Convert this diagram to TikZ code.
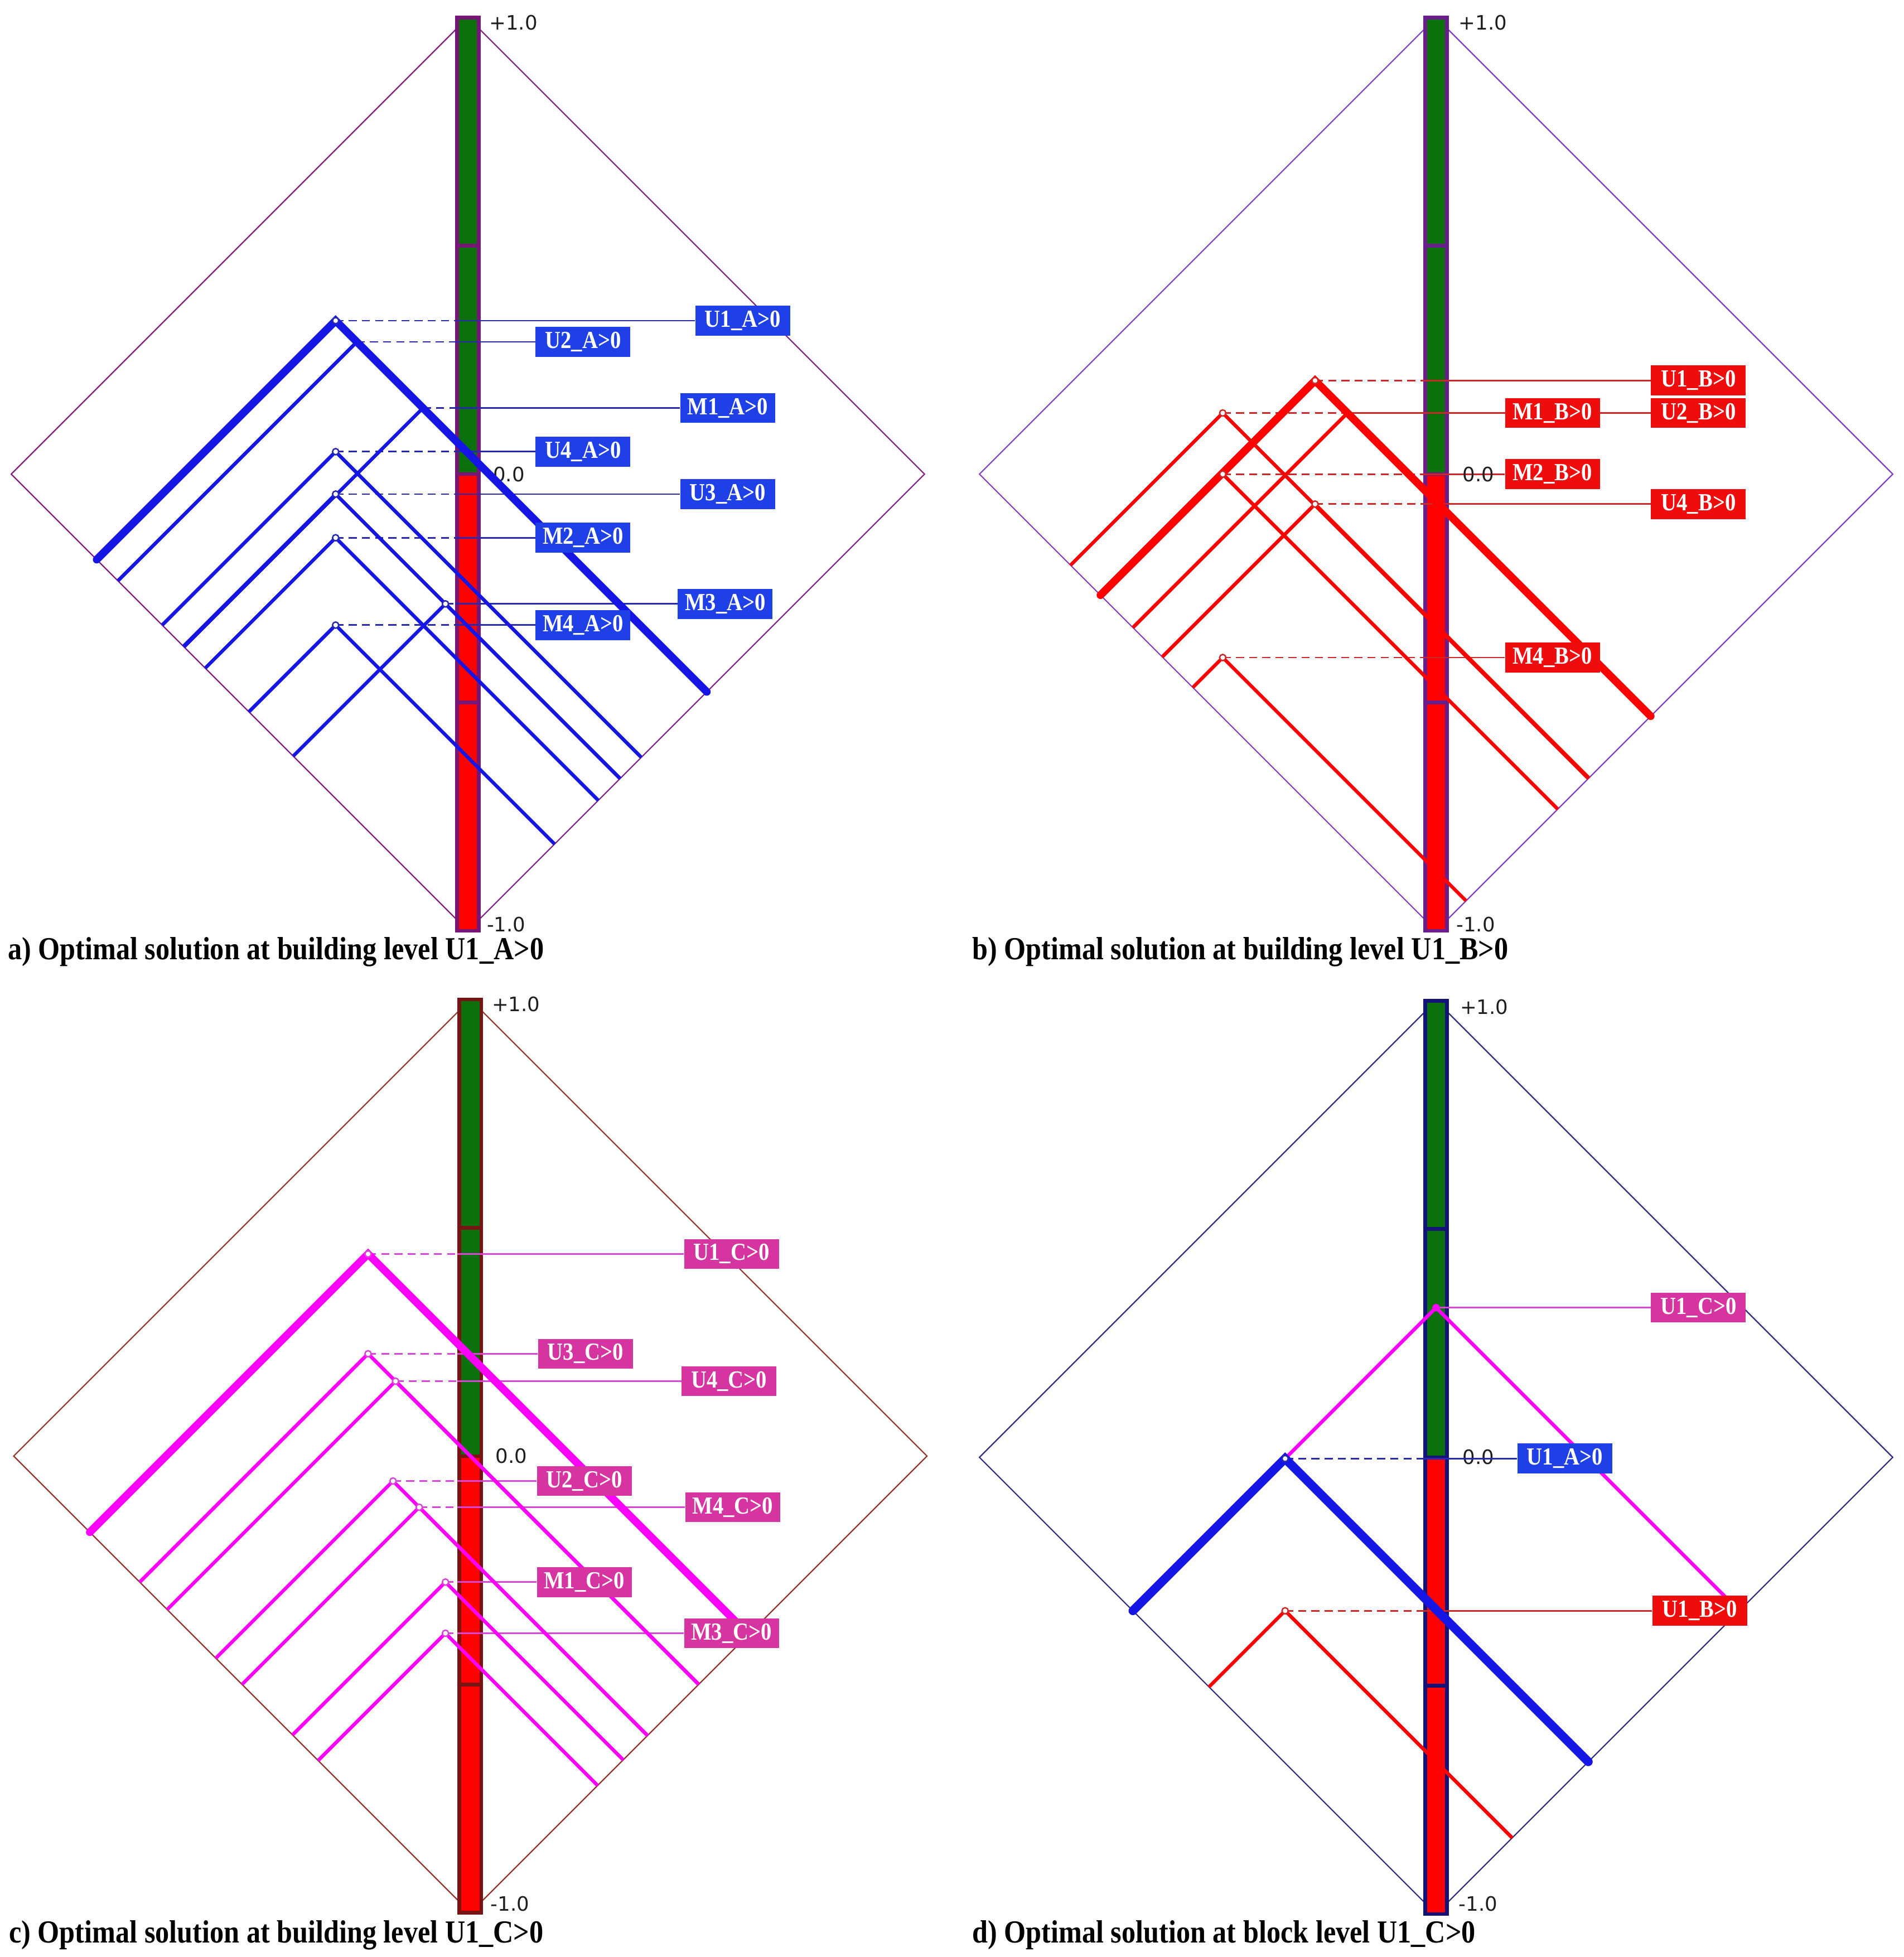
\documentclass[tikz,border=0pt]{standalone}
\usepackage{fontspec}
\setmainfont{Liberation Serif}
\newfontfamily\tickfont{DejaVu Sans}
\usetikzlibrary{backgrounds}
\definecolor{lineA}{RGB}{22,22,228}
\definecolor{boxA}{RGB}{30,64,230}
\definecolor{connA}{RGB}{40,40,175}
\definecolor{lineB}{RGB}{255,0,0}
\definecolor{boxB}{RGB}{238,12,12}
\definecolor{connB}{RGB}{205,40,40}
\definecolor{lineC}{RGB}{255,0,255}
\definecolor{boxC}{RGB}{214,52,160}
\definecolor{connC}{RGB}{215,70,215}
\definecolor{barG}{RGB}{12,112,12}
\definecolor{barR}{RGB}{255,0,0}
\definecolor{rimA}{RGB}{128,32,128}
\definecolor{edgeA}{RGB}{118,22,118}
\definecolor{rimB}{RGB}{128,64,192}
\definecolor{edgeB}{RGB}{105,30,140}
\definecolor{rimC}{RGB}{145,55,45}
\definecolor{edgeC}{RGB}{120,20,20}
\definecolor{rimD}{RGB}{45,45,125}
\definecolor{edgeD}{RGB}{20,20,120}
\definecolor{tickgray}{RGB}{30,30,30}

\begin{document}
\begin{tikzpicture}[x=0.25mm, y=-0.25mm,
    rim/.style={line width=0.7pt},
    seg/.style={line width=2.1pt},
    leg/.style={line width=2pt},
    legw/.style={line width=4.4pt, line cap=round},
    conn/.style={line width=0.9pt},
    dsh/.style={conn, dash pattern=on 4.6pt off 2.9pt},
    pk/.style={fill=white, line width=0.8pt},
    lbl/.style={fill=#1, text=white, font=\bfseries\fontsize{14}{15}\selectfont,
        minimum width=19mm, minimum height=6mm, inner sep=0pt, anchor=west},
    tk/.style={font=\tickfont\fontsize{11.3}{12}\selectfont, text=tickgray, anchor=west, inner sep=0pt},
    capt/.style={font=\bfseries\fontsize{18.3}{20}\selectfont, anchor=base west, inner sep=0pt}]
    \useasboundingbox (0,0) rectangle (1526,1568.5);

    % a) building level A
    \begin{scope}[shift={(375,380)}]
        \node[lbl=boxA] (aU1) at (182,-123) {\scalebox{.88}[1]{U1\_A>0}};
        \node[lbl=boxA] (aU2) at (54,-106) {\scalebox{.88}[1]{U2\_A>0}};
        \node[lbl=boxA] (aM1) at (170,-53) {\scalebox{.88}[1]{M1\_A>0}};
        \node[lbl=boxA] (aU4) at (54,-18) {\scalebox{.88}[1]{U4\_A>0}};
        \node[lbl=boxA] (aU3) at (170,16) {\scalebox{.88}[1]{U3\_A>0}};
        \node[lbl=boxA] (aM2) at (54,51) {\scalebox{.88}[1]{M2\_A>0}};
        \node[lbl=boxA] (aM3) at (168,104) {\scalebox{.88}[1]{M3\_A>0}};
        \node[lbl=boxA] (aM4) at (54,121) {\scalebox{.88}[1]{M4\_A>0}};
        \begin{pgfonlayer}{background}
            \draw[rim, draw=rimA] (-366,0) -- (0,-366) -- (366,0) -- (0,366) -- cycle;
            \draw[seg, draw=edgeA, fill=barG] (-8.8,-366) rectangle (8.8,-183);
            \draw[seg, draw=edgeA, fill=barG] (-8.8,-183) rectangle (8.8,0);
            \draw[seg, draw=edgeA, fill=barR] (-8.8,0) rectangle (8.8,183);
            \draw[seg, draw=edgeA, fill=barR] (-8.8,183) rectangle (8.8,366);
            \coordinate (aBar) at (-10.3,0);
            \node[tk] (aTop) at (17,-362) {+1.0};
            \node[tk] (aMid) at (20,0) {0.0};
            \node[tk] (aBot) at (15,361) {-1.0};
            \coordinate (aU1p) at (-106,-123);
            \coordinate (aU2p) at (-89,-106);
            \coordinate (aM1p) at (-36,-53);
            \coordinate (aU4p) at (-106,-18);
            \coordinate (aU3p) at (-106,16);
            \coordinate (aM2p) at (-106,51);
            \coordinate (aM3p) at (-18,104);
            \coordinate (aM4p) at (-106,121);
            \foreach \k in {U1,U2,M1,U4,U3,M2,M3,M4} {
                \draw[dsh, draw=connA] (a\k p) -- (a\k p -| aBar);
                \draw[conn, draw=connA] (a\k p -| aBar) -- (a\k);
            }
            \draw[leg, draw=lineA] (-280.5,85.5) -- (aU2p) -- (191.5,174.5);
            \draw[leg, draw=lineA] (-227.5,138.5) -- (aM1p) -- (191.5,174.5);
            \draw[leg, draw=lineA] (-245,121) -- (aU4p) -- (139,227);
            \draw[leg, draw=lineA] (-228,138) -- (aU3p) -- (122,244);
            \draw[leg, draw=lineA] (-210.5,155.5) -- (aM2p) -- (104.5,261.5);
            \draw[leg, draw=lineA] (-140,226) -- (aM3p) -- (122,244);
            \draw[leg, draw=lineA] (-175.5,190.5) -- (aM4p) -- (69.5,296.5);
            \draw[legw, draw=lineA] (-297.5,68.5) -- (aU1p) -- (191.5,174.5);
            \foreach \k in {U1,U4,U3,M2,M3,M4}
                \draw[pk, draw=connA] (a\k p) circle (2.5);
        \end{pgfonlayer}
    \end{scope}

    % b) building level B
    \begin{scope}[shift={(1151,380)}]
        \node[lbl=boxB] (bU1) at (172,-75) {\scalebox{.88}[1]{U1\_B>0}};
        \node[lbl=boxB] (bM1) at (55,-49) {\scalebox{.88}[1]{M1\_B>0}};
        \node[lbl=boxB] (bU2) at (172,-49) {\scalebox{.88}[1]{U2\_B>0}};
        \node[lbl=boxB] (bM2) at (55,0) {\scalebox{.88}[1]{M2\_B>0}};
        \node[lbl=boxB] (bU4) at (172,24) {\scalebox{.88}[1]{U4\_B>0}};
        \node[lbl=boxB] (bM4) at (55,147) {\scalebox{.88}[1]{M4\_B>0}};
        \begin{pgfonlayer}{background}
            \draw[rim, draw=rimB] (-366,0) -- (0,-366) -- (366,0) -- (0,366) -- cycle;
            \draw[seg, draw=edgeB, fill=barG] (-8.8,-366) rectangle (8.8,-183);
            \draw[seg, draw=edgeB, fill=barG] (-8.8,-183) rectangle (8.8,0);
            \draw[seg, draw=edgeB, fill=barR] (-8.8,0) rectangle (8.8,183);
            \draw[seg, draw=edgeB, fill=barR] (-8.8,183) rectangle (8.8,366);
            \coordinate (bBar) at (-10.3,0);
            \coordinate (bU1p) at (-97,-75);
            \coordinate (bU2p) at (-71,-49);
            \coordinate (bM1p) at (-171,-49);
            \coordinate (bM2p) at (-171,0);
            \coordinate (bU4p) at (-97,24);
            \coordinate (bM4p) at (-171,147);
            \foreach \k in {U1,U2,M1,M2,U4,M4} {
                \draw[dsh, draw=connB] (b\k p) -- (b\k p -| bBar);
                \draw[conn, draw=connB] (b\k p -| bBar) -- (b\k);
            }
            \node[tk] (bTop) at (18,-362) {+1.0};
            \node[tk] (bMid) at (21,0) {0.0};
            \node[tk] (bBot) at (16,361) {-1.0};
            \draw[leg, draw=lineB] (-293,73) -- (bM1p) -- (122,244);
            \draw[leg, draw=lineB] (-268.5,97.5) -- (bM2p) -- (97.5,268.5);
            \draw[leg, draw=lineB] (-219.5,146.5) -- (bU4p) -- (122.5,243.5);
            \draw[leg, draw=lineB] (-195,171) -- (bM4p) -- (24,342);
            \draw[leg, draw=lineB] (-243,123) -- (bU2p) -- (172,194);
            \draw[legw, draw=lineB] (-269,97) -- (bU1p) -- (172,194);
            \foreach \k in {U1,M1,M2,U4,M4}
                \draw[pk, draw=connB] (b\k p) circle (2.5);
        \end{pgfonlayer}
    \end{scope}

    % c) building level C
    \begin{scope}[shift={(377,1167)}]
        \node[lbl=boxC] (cU1) at (171,-162) {\scalebox{.88}[1]{U1\_C>0}};
        \node[lbl=boxC] (cU3) at (54,-82) {\scalebox{.88}[1]{U3\_C>0}};
        \node[lbl=boxC] (cU4) at (169,-60) {\scalebox{.88}[1]{U4\_C>0}};
        \node[lbl=boxC] (cU2) at (53,20) {\scalebox{.88}[1]{U2\_C>0}};
        \node[lbl=boxC] (cM4) at (172,41) {\scalebox{.88}[1]{M4\_C>0}};
        \node[lbl=boxC] (cM1) at (53,101) {\scalebox{.88}[1]{M1\_C>0}};
        \node[lbl=boxC] (cM3) at (171,142) {\scalebox{.88}[1]{M3\_C>0}};
        \begin{pgfonlayer}{background}
            \draw[rim, draw=rimC] (-366,0) -- (0,-366) -- (366,0) -- (0,366) -- cycle;
            \draw[seg, draw=edgeC, fill=barG] (-8.8,-366) rectangle (8.8,-183);
            \draw[seg, draw=edgeC, fill=barG] (-8.8,-183) rectangle (8.8,0);
            \draw[seg, draw=edgeC, fill=barR] (-8.8,0) rectangle (8.8,183);
            \draw[seg, draw=edgeC, fill=barR] (-8.8,183) rectangle (8.8,366);
            \coordinate (cBar) at (-10.3,0);
            \node[tk] (cTop) at (17,-362) {+1.0};
            \node[tk] (cMid) at (20,0) {0.0};
            \node[tk] (cBot) at (16,359) {-1.0};
            \coordinate (cU1p) at (-82,-162);
            \coordinate (cU3p) at (-82,-82);
            \coordinate (cU4p) at (-60,-60);
            \coordinate (cU2p) at (-62,20);
            \coordinate (cM4p) at (-41,41);
            \coordinate (cM1p) at (-20,101);
            \coordinate (cM3p) at (-20,142);
            \foreach \k in {U1,U3,U4,U2,M4,M1,M3} {
                \draw[dsh, draw=connC] (c\k p) -- (c\k p -| cBar);
                \draw[conn, draw=connC] (c\k p -| cBar) -- (c\k);
            }
            \draw[leg, draw=lineC] (-265,101) -- (cU3p) -- (183,183);
            \draw[leg, draw=lineC] (-243,123) -- (cU4p) -- (183,183);
            \draw[leg, draw=lineC] (-204,162) -- (cU2p) -- (142,224);
            \draw[leg, draw=lineC] (-183,183) -- (cM4p) -- (142,224);
            \draw[leg, draw=lineC] (-142.5,223.5) -- (cM1p) -- (122.5,243.5);
            \draw[leg, draw=lineC] (-122,244) -- (cM3p) -- (102,264);
            \draw[legw, draw=lineC] (-305,61) -- (cU1p) -- (223,143);
            \foreach \k in {U1,U3,U4,U2,M4,M1,M3}
                \draw[pk, draw=connC] (c\k p) circle (2.5);
        \end{pgfonlayer}
    \end{scope}

    % d) block level
    \begin{scope}[shift={(1151,1168)}]
        \node[lbl=boxC] (dC) at (172,-120) {\scalebox{.88}[1]{U1\_C>0}};
        \node[lbl=boxA] (dA) at (65,1) {\scalebox{.88}[1]{U1\_A>0}};
        \node[lbl=boxB] (dB) at (173,123) {\scalebox{.88}[1]{U1\_B>0}};
        \begin{pgfonlayer}{background}
            \draw[rim, draw=rimD] (-366,0) -- (0,-366) -- (366,0) -- (0,366) -- cycle;
            \draw[seg, draw=edgeD, fill=barG] (-8.8,-366) rectangle (8.8,-183);
            \draw[seg, draw=edgeD, fill=barG] (-8.8,-183) rectangle (8.8,0);
            \draw[seg, draw=edgeD, fill=barR] (-8.8,0) rectangle (8.8,183);
            \draw[seg, draw=edgeD, fill=barR] (-8.8,183) rectangle (8.8,366);
            \coordinate (dBar) at (-10.3,0);
            \coordinate (dCp) at (0,-120);
            \coordinate (dAp) at (-121,1);
            \coordinate (dBp) at (-121,123);
            \draw[conn, draw=connC] (dCp) -- (dC);
            \draw[dsh, draw=connA] (dAp) -- (dAp -| dBar);
            \draw[dsh, draw=connB] (dBp) -- (dBp -| dBar);
            \node[tk] (dTop) at (19,-361) {+1.0};
            \node[tk] (dMid) at (21,0) {0.0};
            \node[tk] (dBot) at (18,358) {-1.0};
            \draw[conn, draw=connA] (dAp -| dBar) -- (dA);
            \draw[conn, draw=connB] (dBp -| dBar) -- (dB);
            \draw[leg, draw=lineC] (-243,123) -- (dCp) -- (243,123);
            \draw[leg, draw=lineB] (-182,184) -- (dBp) -- (61,305);
            \draw[legw, line width=5pt, draw=lineA] (-243,123) -- (dAp) -- (122,244);
            \draw[pk, draw=lineC, fill=lineC] (dCp) circle (2.5);
            \draw[pk, draw=connA] (dAp) circle (2.5);
            \draw[pk, draw=connB] (dBp) circle (2.5);
        \end{pgfonlayer}
    \end{scope}

    \node[capt] (capA) at (6,769) {\scalebox{.873}[1]{a) Optimal solution at building level U1\_A>0}};
    \node[capt] (capB) at (779,769) {\scalebox{.873}[1]{b) Optimal solution at building level U1\_B>0}};
    \node[capt] (capC) at (7,1557) {\scalebox{.873}[1]{c) Optimal solution at building level U1\_C>0}};
    \node[capt] (capD) at (779,1557) {\scalebox{.873}[1]{d) Optimal solution at block level U1\_C>0}};
\end{tikzpicture}
\end{document}
